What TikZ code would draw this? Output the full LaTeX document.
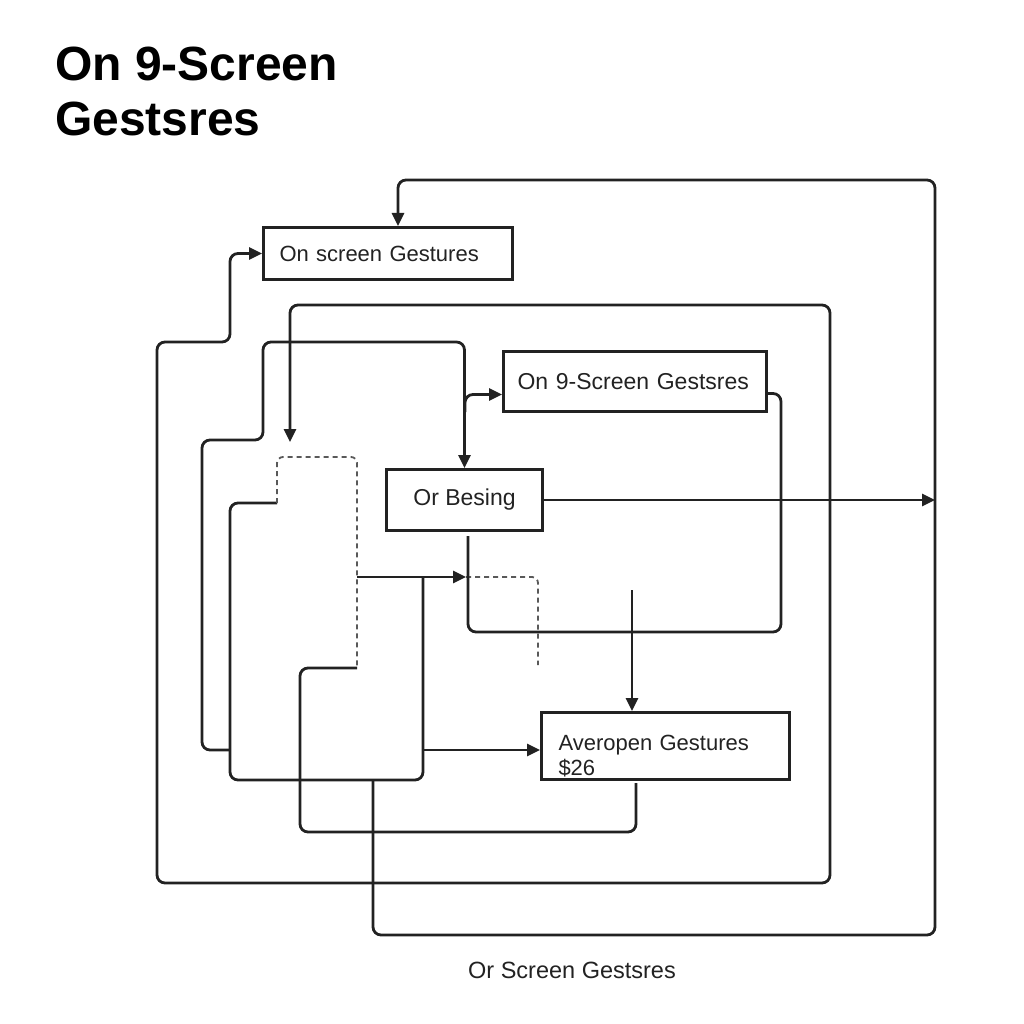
\documentclass[tikz,border=0pt]{standalone}
\usepackage{fontspec}
\setmainfont{Liberation Sans}
\usetikzlibrary{arrows.meta}
\definecolor{ink}{HTML}{222222}

\begin{document}
\begin{tikzpicture}[x=1pt, y=-1pt,
        wire/.style={draw=ink, line width=2.8pt, rounded corners=8pt},
        arr/.style={wire, -{Triangle[length=13pt, width=12pt]}},
        arrs/.style={wire, {Triangle[length=13pt, width=12pt]}-{Triangle[length=13pt, width=12pt]}},
        dashline/.style={draw=ink!75, line width=1.8pt, dash pattern=on 5pt off 4pt, rounded corners=6pt},
        box/.style={draw=ink, line width=3pt, anchor=north west, inner xsep=16pt, inner ysep=0pt,
            align=left, font=\fontsize{22}{25}\selectfont, text=ink},
        bigbox/.style={box, font=\fontsize{23}{25}\selectfont}]
        \useasboundingbox (0, 0) rectangle (1024, 1024);

        \node[anchor=north west, inner sep=0pt, align=left, font=\fontsize{48}{55}\selectfont\bfseries] at (55, 47)(title){On 9-Screen\\Gestsres};
        \node[box, text width=217pt, minimum height=52pt] at (262, 226)(scr){On screen Gestures};
        \node[bigbox, text width=235pt, minimum height=60pt, inner xsep=14pt] at (502, 350)(gst){On 9-Screen Gestsres};
        \node[bigbox, align=center, minimum width=156pt, minimum height=61pt] at (385, 468)(besing){Or Besing};
        \node[box, text width=214pt, minimum height=67pt, inner xsep=17pt] at (540, 711)(avr){\rule{0pt}{36pt}Averopen Gestures\\\$26};
        \node[font=\fontsize{23.5}{25}\selectfont, text=ink] at (572, 970)(cap){Or Screen Gestsres};

        % free ends and joins
        \coordinate (ne) at (935, 180);
        \coordinate (inb) at (373, 780);
        \coordinate (dtop) at (290, 442);
        \coordinate (lj) at (230, 750);
        \coordinate (fork) at (465, 412);
        \coordinate (dsw) at (277, 503);
        \coordinate (dse) at (357, 668);
        \coordinate (dmid) at (357, 577);
        \coordinate (hj) at (423, 577);
        \coordinate (hend) at (466, 577);
        \coordinate (dend) at (538, 665);
        \coordinate (dj) at (423, 750);
        \coordinate (bsub) at (468, 536);
        \coordinate (dsrc) at (632, 590);
        \coordinate (dbot) at (636, 783);

        \draw[arr] (inb) |- (935, 935) -- (ne) -| ([xshift=10pt]scr.north);
        \draw[arr] (besing.east) -- (besing.east -| ne);
        \draw[arrs] (dtop) |- (830, 305) |- (157, 883) |- (230, 342) |- (scr.west);
        \draw[arr] (lj) -| (202, 440) -| (263, 342) -| (besing.north);
        \draw[arr] (fork) |- ([yshift=-13pt]gst.west);
        \draw[wire] (dsw) -| (230, 780) -| (hj);
        \draw[arr] (dmid) -- (hend);
        \draw[arr] (dj) -- (dj -| avr.west);
        \draw[dashline] (dsw) |- (357, 457) -- (dse);
        \draw[dashline] (hend) -| (dend);
        \draw[wire] ([yshift=-12pt]gst.east) -| (781, 632) -| (bsub);
        \draw[arr] (dsrc) -- (dsrc |- avr.north);
        \draw[wire] (dbot) |- (300, 832) |- (dse);
    \end{tikzpicture}
\end{document}
